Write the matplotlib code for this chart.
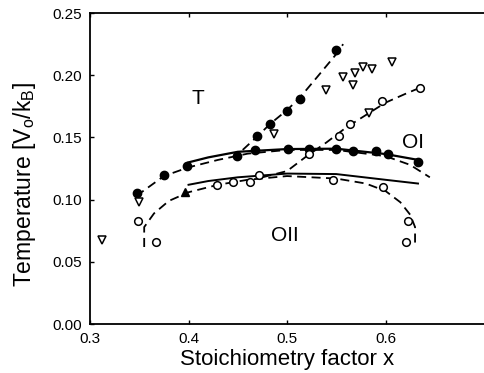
import matplotlib
matplotlib.use("Agg")
import matplotlib.pyplot as plt

plt.rcParams['font.family'] = ['Liberation Sans', 'DejaVu Sans']

# --- measured points -------------------------------------------------------
filled_x = [0.348, 0.375, 0.398, 0.449, 0.467, 0.470, 0.483, 0.500, 0.513, 0.550,
            0.501, 0.522, 0.550, 0.567, 0.590, 0.603, 0.633]
filled_y = [0.105, 0.120, 0.127, 0.135, 0.140, 0.151, 0.161, 0.171, 0.181, 0.220,
            0.141, 0.141, 0.141, 0.139, 0.139, 0.137, 0.130]

open_x = [0.349, 0.367, 0.429, 0.445, 0.462, 0.472, 0.547, 0.597, 0.623, 0.621,
          0.522, 0.553, 0.564, 0.596, 0.635]
open_y = [0.083, 0.066, 0.112, 0.114, 0.114, 0.120, 0.116, 0.110, 0.083, 0.066,
          0.137, 0.151, 0.161, 0.179, 0.190]

tri_x = [0.540, 0.557, 0.567, 0.569, 0.577, 0.586, 0.607, 0.312, 0.350, 0.487, 0.583]
tri_y = [0.188, 0.199, 0.192, 0.2015, 0.207, 0.205, 0.211, 0.068, 0.098, 0.153, 0.170]

filled_tri_x = [0.396]
filled_tri_y = [0.106]

# --- phase boundaries --------------------------------------------------------
o1_solid_x = [0.400, 0.420, 0.450, 0.500, 0.550, 0.600, 0.633]
o1_solid_y = [0.130, 0.134, 0.1385, 0.1407, 0.141, 0.1367, 0.132]

o2_solid_x = [0.400, 0.420, 0.450, 0.500, 0.550, 0.600, 0.633]
o2_solid_y = [0.112, 0.115, 0.118, 0.121, 0.1206, 0.116, 0.113]

o1_dash_x = [0.347, 0.375, 0.400, 0.430, 0.460, 0.500, 0.550, 0.600, 0.625, 0.645]
o1_dash_y = [0.103, 0.119, 0.126, 0.132, 0.137, 0.140, 0.140, 0.135, 0.128, 0.118]

t_dash_x = [0.455, 0.470, 0.483, 0.500, 0.513, 0.530, 0.550, 0.557]
t_dash_y = [0.140, 0.151, 0.161, 0.172, 0.182, 0.198, 0.217, 0.225]

o2_dash_x = [0.355, 0.355, 0.365, 0.380, 0.400, 0.430, 0.460, 0.500, 0.550, 0.580,
             0.600, 0.615, 0.625, 0.630, 0.630]
o2_dash_y = [0.062, 0.078, 0.089, 0.099, 0.106, 0.112, 0.116, 0.119, 0.117, 0.113,
             0.107, 0.098, 0.088, 0.078, 0.062]

rise_dash_x = [0.475, 0.500, 0.520, 0.540, 0.560, 0.580, 0.600, 0.620, 0.635]
rise_dash_y = [0.118, 0.123, 0.135, 0.146, 0.158, 0.168, 0.178, 0.185, 0.190]

x_ticks = [0.3, 0.4, 0.5, 0.6]
y_ticks = [0.00, 0.05, 0.10, 0.15, 0.20, 0.25]

fig = plt.figure(figsize=(4.84, 3.73), dpi=100)
ax = fig.add_axes([0.186, 0.131, 0.814, 0.834])

dash = (0, (5, 3))
ax.plot(o1_solid_x, o1_solid_y, color='black', lw=1.6)
ax.plot(o2_solid_x, o2_solid_y, color='black', lw=1.4)
for xs, ys in [(o1_dash_x, o1_dash_y), (t_dash_x, t_dash_y),
               (o2_dash_x, o2_dash_y), (rise_dash_x, rise_dash_y)]:
    ax.plot(xs, ys, color='black', lw=1.3, linestyle=dash)

ax.plot(filled_x, filled_y, 'o', color='black', ms=6, mec='black')
ax.plot(open_x, open_y, 'o', mfc='white', mec='black', ms=5.5, mew=1.1)
ax.plot(tri_x, tri_y, 'v', mfc='white', mec='black', ms=5.5, mew=1.1)
ax.plot(filled_tri_x, filled_tri_y, '^', color='black', ms=6)

ax.text(0.410, 0.181, 'T', fontsize=15, ha='center', va='center')
ax.text(0.628, 0.146, 'OI', fontsize=15, ha='center', va='center')
ax.text(0.498, 0.071, 'OII', fontsize=15, ha='center', va='center')

ax.set_xlim(0.3, 0.7)
ax.set_ylim(0.0, 0.25)
ax.set_xticks(x_ticks)
ax.set_xticklabels([f'{v:.1f}' for v in x_ticks], fontsize=11)
ax.set_yticks(y_ticks)
ax.set_yticklabels([f'{v:.2f}' for v in y_ticks], fontsize=11)
ax.tick_params(direction='in', length=3, width=1, top=True, pad=6)
ax.tick_params(axis='x', pad=6)
ax.spines['right'].set_visible(False)
for s in ['left', 'bottom', 'top']:
    ax.spines[s].set_linewidth(1.3)

ax.set_xlabel('Stoichiometry factor x', fontsize=16, labelpad=2)
ax.set_ylabel(r'Temperature [V$_\mathregular{o}$/k$_\mathregular{B}$]', fontsize=16.5)
ax.yaxis.set_label_coords(-0.133, 0.45)

fig.savefig('out.png', dpi=100)
